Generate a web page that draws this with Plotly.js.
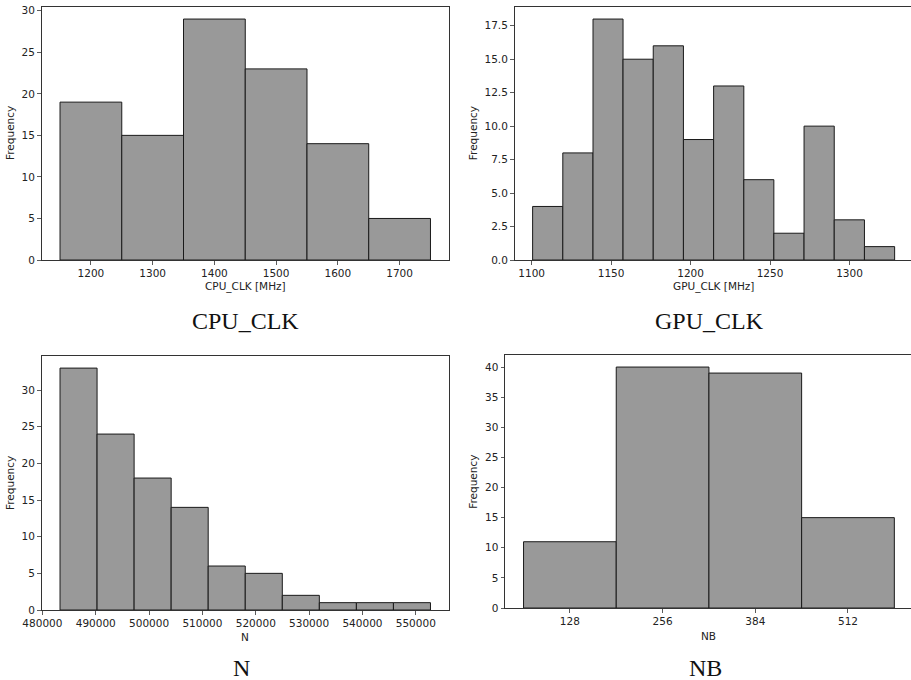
<!DOCTYPE html>
<html>
<head>
<meta charset="utf-8">
<script src="https://cdn.plot.ly/plotly-3.0.1.min.js"></script>
<style>html,body{margin:0;padding:0;background:#fff;overflow:hidden;}</style>
</head>
<body>
<div id="chart" style="width:911px;height:680px;"></div>
<script>
// ---- data ----
const cpuEdges = [1150, 1250, 1350, 1450, 1550, 1650, 1750];
const cpuCounts = [19, 15, 29, 23, 14, 5];

const gpuEdges = [1100.6, 1119.6, 1138.6, 1157.5, 1176.5, 1195.5, 1214.5, 1233.5, 1252.4, 1271.4, 1290.4, 1309.4, 1328.4];
const gpuCounts = [4, 8, 18, 15, 16, 9, 13, 6, 2, 10, 3, 1];

const nEdges = [483300, 490245, 497190, 504135, 511080, 518025, 524970, 531915, 538860, 545805, 552750];
const nCounts = [33, 24, 18, 14, 6, 5, 2, 1, 1, 1];

const nbEdges = [64, 192, 320, 448, 576];
const nbCounts = [11, 40, 39, 15];
const nbTicks = [128, 256, 384, 512];

const xTitles = ['CPU_CLK [MHz]', 'GPU_CLK [MHz]', 'N', 'NB'];
const panelTitles = ['CPU_CLK', 'GPU_CLK', 'N', 'NB'];

// ---- helpers ----
function barTrace(edges, counts, xa, ya) {
  const centers = [], widths = [];
  for (let i = 0; i < counts.length; i++) {
    centers.push((edges[i] + edges[i + 1]) / 2);
    widths.push(edges[i + 1] - edges[i]);
  }
  return {
    type: 'bar', x: centers, y: counts, width: widths,
    xaxis: xa, yaxis: ya,
    marker: {color: '#999999', line: {color: '#1a1a1a', width: 1}},
    hoverinfo: 'skip'
  };
}

const W = 911, H = 680;
const px = v => v / W;
const py = v => (H - v) / H;

const tickFont = {family: 'DejaVu Sans', size: 10.5, color: '#222'};
function axisBase(extra) {
  return Object.assign({
    showgrid: false, zeroline: false, showline: true, linecolor: '#333', linewidth: 1,
    ticks: 'outside', ticklen: 3.5, tickwidth: 0.8, tickcolor: '#333',
    tickfont: tickFont, automargin: false, fixedrange: true
  }, extra);
}

const data = [
  barTrace(cpuEdges, cpuCounts, 'x', 'y'),
  barTrace(gpuEdges, gpuCounts, 'x2', 'y2'),
  barTrace(nEdges, nCounts, 'x3', 'y3'),
  barTrace(nbEdges, nbCounts, 'x4', 'y4')
];

const layout = {
  width: W, height: H,
  margin: {l: 0, r: 0, t: 0, b: 0},
  paper_bgcolor: '#fff', plot_bgcolor: '#fff',
  showlegend: false, bargap: 0,
  xaxis: axisBase({domain: [px(41.5), px(449)], range: [1120, 1780], tickmode: 'linear', tick0: 1200, dtick: 100, mirror: true, anchor: 'y'}),
  yaxis: axisBase({domain: [py(260), py(7)], range: [0, 30.45], tickmode: 'linear', tick0: 0, dtick: 5, mirror: true, anchor: 'x'}),
  xaxis2: axisBase({domain: [px(514.5), 1], range: [1089.2, 1338.7], tickmode: 'linear', tick0: 1100, dtick: 50, mirror: true, anchor: 'y2'}),
  yaxis2: axisBase({domain: [py(260), py(7)], range: [0, 18.9], tickmode: 'linear', tick0: 0, dtick: 2.5, tickformat: '.1f', mirror: false, anchor: 'x2'}),
  xaxis3: axisBase({domain: [px(41.5), px(449)], range: [479828, 556222], tickmode: 'linear', tick0: 480000, dtick: 10000, tickformat: 'd', mirror: true, anchor: 'y3'}),
  yaxis3: axisBase({domain: [py(610), py(356)], range: [0, 34.65], tickmode: 'linear', tick0: 0, dtick: 5, mirror: true, anchor: 'x3'}),
  xaxis4: axisBase({domain: [px(505), 1], range: [38.4, 599], tickmode: 'array', tickvals: nbTicks, ticktext: nbTicks.map(String), mirror: true, anchor: 'y4'}),
  yaxis4: axisBase({domain: [py(608), py(355)], range: [0, 42], tickmode: 'linear', tick0: 0, dtick: 5, mirror: false, anchor: 'x4'}),
  annotations: []
};

const labelFont = {family: 'DejaVu Sans', size: 10.5, color: '#222'};
const serifFont = {family: 'Liberation Serif, Times New Roman, serif', size: 24, color: '#111'};
// x-axis titles
const xTitlePos = [[245.3, 286.5], [713.7, 286.5], [245.3, 637], [708, 635.5]];
// y-axis titles
const yTitlePos = [[10.5, 133.5], [473.7, 133.5], [10, 483], [473.3, 481.5]];
// panel captions
const capPos = [[246, 320.5], [709, 320.5], [241.3, 668.3], [705, 668]];
for (let i = 0; i < 4; i++) {
  layout.annotations.push({text: xTitles[i], x: px(xTitlePos[i][0]), y: py(xTitlePos[i][1]), xref: 'paper', yref: 'paper',
    xanchor: 'center', yanchor: 'middle', showarrow: false, font: labelFont});
  layout.annotations.push({text: 'Frequency', x: px(yTitlePos[i][0]), y: py(yTitlePos[i][1]), xref: 'paper', yref: 'paper',
    xanchor: 'center', yanchor: 'middle', textangle: -90, showarrow: false, font: labelFont});
  layout.annotations.push({text: panelTitles[i], x: px(capPos[i][0]), y: py(capPos[i][1]), xref: 'paper', yref: 'paper',
    xanchor: 'center', yanchor: 'middle', showarrow: false, font: serifFont});
}

Plotly.newPlot('chart', data, layout, {displayModeBar: false, staticPlot: true});
</script>
</body>
</html>
